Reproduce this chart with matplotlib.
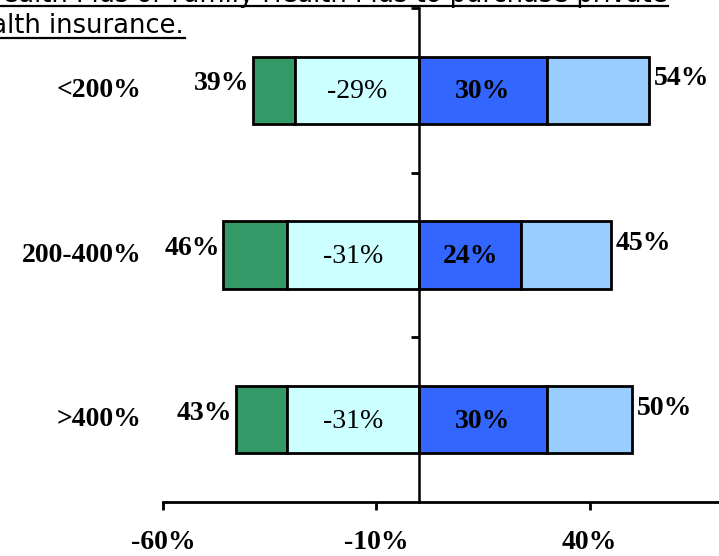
import matplotlib
matplotlib.use('Agg')
import matplotlib.pyplot as plt
from matplotlib.lines import Line2D

groups = ['<200%', '200-400%', '>400%']
neg_total = [39, 46, 43]
neg_some = [29, 31, 31]
pos_some = [30, 24, 30]
pos_total = [54, 45, 50]
xticks = [-60, -10, 40]

c_dark_green = '#339966'
c_cyan = '#ccffff'
c_blue = '#3366ff'
c_light_blue = '#99ccff'

serif = 'Liberation Serif'

fig = plt.figure(figsize=(7.19, 5.56), dpi=100)
ax = fig.add_axes([163 / 719, 54 / 556, 1 - 163 / 719, 494 / 556])

ypos = [2, 1, 0]
h = 0.41
for y, nt, ns, ps, pt in zip(ypos, neg_total, neg_some, pos_some, pos_total):
    ax.barh(y, nt - ns, left=-nt, height=h, color=c_dark_green, edgecolor='black', linewidth=2, zorder=3)
    ax.barh(y, ns, left=-ns, height=h, color=c_cyan, edgecolor='black', linewidth=2, zorder=3)
    ax.barh(y, ps, left=0, height=h, color=c_blue, edgecolor='black', linewidth=2, zorder=3)
    ax.barh(y, pt - ps, left=ps, height=h, color=c_light_blue, edgecolor='black', linewidth=2, zorder=3)

    ax.text(-ns / 2, y - 0.01, '-%d%%' % ns, ha='center', va='center', fontsize=20, family=serif, zorder=4)
    ax.text(ps / 2, y - 0.01, '%d%%' % ps, ha='center', va='center', fontsize=20, family=serif,
            fontweight='bold', zorder=4)
    ax.text(-nt - 0.7, y + 0.04, '%d%%' % nt, ha='right', va='center', fontsize=20, family=serif,
            fontweight='bold')
    ax.text(pt + 1.0, y + 0.07, '%d%%' % pt, ha='left', va='center', fontsize=20, family=serif,
            fontweight='bold')
    ax.text(-65.0, y, groups[2 - y], ha='right', va='center', fontsize=20, family=serif,
            fontweight='bold', clip_on=False)

ax.set_xlim(-60, 70.3)
ax.set_ylim(-0.5, 2.5)

ax.spines['top'].set_visible(False)
ax.spines['right'].set_visible(False)
ax.spines['left'].set_position(('data', 0))
ax.spines['left'].set_linewidth(1.8)
ax.spines['bottom'].set_linewidth(2)
ax.spines['left'].set_zorder(5)

ax.set_xticks(xticks)
ax.set_xticklabels(['%d%%' % t for t in xticks], fontsize=20, family=serif, fontweight='bold')
ax.tick_params(axis='x', length=6, width=2, pad=14)
ax.set_yticks([0.5, 1.5, 2.5])
ax.set_yticklabels([])
ax.tick_params(axis='y', length=6, width=2)

# cropped title lines above the chart
fig.text(668 / 719, 1 - 2 / 556, 'Child Health Plus or Family Health Plus to purchase private',
         ha='right', va='baseline', fontsize=18.5, family='DejaVu Sans')
fig.add_artist(Line2D([0, 668 / 719], [1 - 6 / 556, 1 - 6 / 556], color='black', lw=1.6,
                      transform=fig.transFigure))
fig.text(184 / 719, 1 - 33 / 556, 'health insurance.', ha='right', va='baseline', fontsize=18.5,
         family='DejaVu Sans')
fig.add_artist(Line2D([0, 185 / 719], [1 - 38 / 556, 1 - 38 / 556], color='black', lw=1.6,
                      transform=fig.transFigure))

plt.savefig('out.png', dpi=100)
plt.close('all')
